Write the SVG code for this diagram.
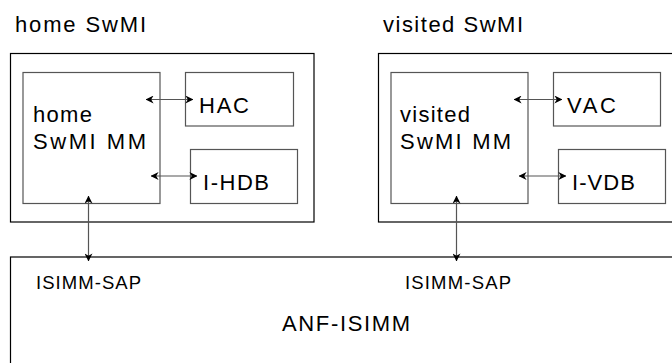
<svg xmlns="http://www.w3.org/2000/svg" width="672" height="363" viewBox="0 0 672 363">
<style>
text{font-family:"Liberation Sans",Arial,sans-serif;fill:#000}
.t{font-size:22px}
.s{font-size:18.5px}
.outer{fill:none;stroke:#000;stroke-width:1.2}
.inner{fill:none;stroke:#555;stroke-width:1.2}
.con{stroke:#555;stroke-width:1.2;fill:none}
</style>
<defs>
<marker id="ah" viewBox="0 0 10 10" refX="9.5" refY="5" markerWidth="8" markerHeight="8" markerUnits="userSpaceOnUse" orient="auto-start-reverse">
<path d="M0,0 L10,5 L0,10 L3,5 z" fill="#000"/>
</marker>
</defs>
<rect width="672" height="363" fill="#fff"/>
<g id="home-swmi">
<text class="t" x="15" y="32" textLength="131" lengthAdjust="spacing">home SwMI</text>
<rect class="outer" x="10.5" y="53.5" width="303.5" height="168.5"/>
</g>
<g id="home-mm">
<rect class="inner" x="23" y="72.5" width="137" height="131"/>
<text class="t" x="33" y="122" textLength="59" lengthAdjust="spacing">home</text>
<text class="t" x="33" y="149" textLength="113" lengthAdjust="spacing">SwMI MM</text>
</g>
<g id="hac">
<rect class="inner" x="185.5" y="72.5" width="108" height="53.5"/>
<text class="t" x="199" y="113" textLength="50" lengthAdjust="spacing">HAC</text>
</g>
<g id="i-hdb">
<rect class="inner" x="190.5" y="149.5" width="107" height="54"/>
<text class="t" x="203" y="190" textLength="66" lengthAdjust="spacing">I-HDB</text>
</g>
<g id="visited-swmi">
<text class="t" x="383" y="32" textLength="140" lengthAdjust="spacing">visited SwMI</text>
<rect class="outer" x="378.5" y="53.5" width="300" height="168.5"/>
</g>
<g id="visited-mm">
<rect class="inner" x="391" y="72.5" width="137" height="131"/>
<text class="t" x="400" y="122" textLength="70" lengthAdjust="spacing">visited</text>
<text class="t" x="400" y="149" textLength="111" lengthAdjust="spacing">SwMI MM</text>
</g>
<g id="vac">
<rect class="inner" x="553.5" y="72.5" width="107" height="53.5"/>
<text class="t" x="567" y="113" textLength="49" lengthAdjust="spacing">VAC</text>
</g>
<g id="i-vdb">
<rect class="inner" x="558.5" y="149.5" width="107" height="54"/>
<text class="t" x="572" y="190" textLength="63" lengthAdjust="spacing">I-VDB</text>
</g>
<g id="anf-isimm">
<rect class="outer" x="10.5" y="257" width="680" height="130"/>
<text class="s" x="36" y="289" textLength="105" lengthAdjust="spacing">ISIMM-SAP</text>
<text class="s" x="405" y="289" textLength="106" lengthAdjust="spacing">ISIMM-SAP</text>
<text class="t" x="282" y="331" textLength="128" lengthAdjust="spacing">ANF-ISIMM</text>
</g>
<g id="connectors">
<line class="con" x1="146" y1="99.5" x2="193" y2="99.5" marker-start="url(#ah)" marker-end="url(#ah)"/>
<line class="con" x1="151" y1="176" x2="197" y2="176" marker-start="url(#ah)" marker-end="url(#ah)"/>
<line class="con" x1="514" y1="99.5" x2="562" y2="99.5" marker-start="url(#ah)" marker-end="url(#ah)"/>
<line class="con" x1="519" y1="176" x2="566" y2="176" marker-start="url(#ah)" marker-end="url(#ah)"/>
<line class="con" x1="88.5" y1="196" x2="88.5" y2="261" marker-start="url(#ah)" marker-end="url(#ah)"/>
<line class="con" x1="456.5" y1="196" x2="456.5" y2="261" marker-start="url(#ah)" marker-end="url(#ah)"/>
</g>
</svg>
